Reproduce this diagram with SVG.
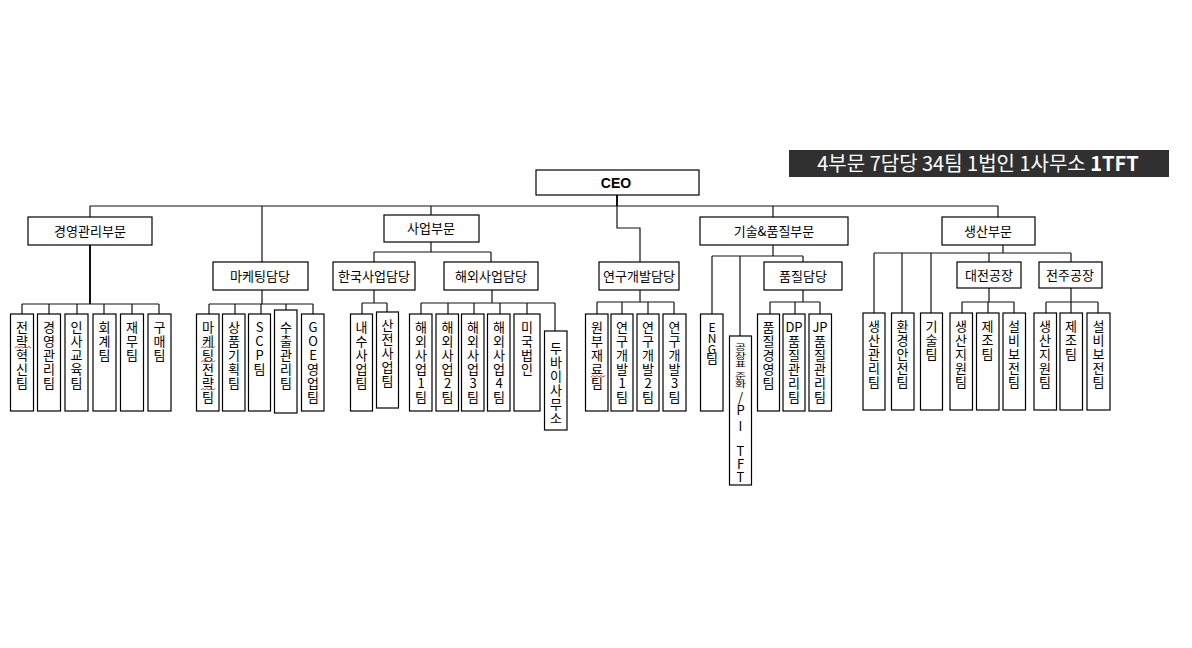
<svg xmlns="http://www.w3.org/2000/svg" width="1192" height="648" viewBox="0 0 1192 648">
<style>
.b{fill:#fff;stroke:#000;stroke-width:1.2}
.t{font-family:"Noto Sans CJK KR","Noto Sans",sans-serif;font-size:13px;fill:#000;text-anchor:middle}
.v{font-family:"Noto Sans CJK KR","Noto Sans",sans-serif;font-size:13px;fill:#000;text-anchor:middle}
.c{fill:none;stroke:#111;stroke-width:1.2}
.k{fill:none;stroke:#111;stroke-width:2}
.sq{fill:none;stroke:#e01010;stroke-width:0.8}
</style>
<rect width="1192" height="648" fill="#fff"/>
<g id="banner">
<rect x="789" y="150" width="380" height="27" fill="#303030"/>
<text x="978" y="170.5" style="font-family:'Noto Sans CJK KR','Noto Sans',sans-serif;font-size:20px;fill:#fff;text-anchor:middle">4부문 7담당 34팀 1법인 1사무소 <tspan font-weight="bold">1TFT</tspan></text>
</g>
<g id="connectors">
<path class="k" d="M617,195V206"/>
<path class="c" d="M90,206H998"/>
<path class="c" d="M90,206V217"/>
<path class="k" d="M90,245V304"/>
<path class="c" d="M22,304H159M22,304V314M49,304V314M77,304V314M104,304V314M132,304V314M159,304V314"/>
<path class="c" d="M262,206V262M262,290V304M209,304H313M209,304V314M235,304V314M261,304V314M286,304V310M313,304V314"/>
<path class="c" d="M431,206V215M431,242V252M374,252H491M374,252V262M491,252V262"/>
<path class="c" d="M374,290V303M362,303H387M362,303V314M387,303V312"/>
<path class="c" d="M492,290V303M421,303H555M421,303V314M448,303V314M474,303V314M500,303V314M527,303V314M555,303V331"/>
<path class="c" d="M617,206V228H640V262M640,290V302M597,302H674M597,302V314M622,302V314M648,302V314M674,302V314"/>
<path class="c" d="M773,206V217M773,245V256M712,256H803M712,256V314M740,256V336M803,256V262"/>
<path class="c" d="M803,290V302M770,302H820M770,302V314M795,302V314M820,302V314"/>
<path class="c" d="M998,206V217M1003,245V253M874,253H1071M874,253V313M902,253V313M931,253V313M989,253V262M1071,253V262"/>
<path class="c" d="M989,288V302M962,302H1014M962,302V313M988,302V313M1014,302V313"/>
<path class="c" d="M1071,288V302M1046,302H1098M1046,302V313M1071,302V313M1098,302V313"/>
</g>
<g id="ceo"><rect class="b" x="536" y="170" width="163" height="25"/><text x="616" y="188" style="font-family:'Liberation Sans',sans-serif;font-size:14px;font-weight:bold;text-anchor:middle">CEO</text></g>
<g id="n-gyeongyeong"><rect class="b" x="28" y="217" width="124" height="28"/><text class="t" x="90" y="236">경영관리부문</text></g>
<g id="n-marketing"><rect class="b" x="213" y="262" width="95" height="28"/><text class="t" x="260" y="281">마케팅담당</text></g>
<g id="n-saeop"><rect class="b" x="384" y="215" width="95" height="27"/><text class="t" x="431" y="233">사업부문</text></g>
<g id="n-hanguk"><rect class="b" x="333" y="262" width="82" height="28"/><text class="t" x="374" y="281">한국사업담당</text></g>
<g id="n-haeoe"><rect class="b" x="444" y="262" width="94" height="28"/><text class="t" x="491" y="281">해외사업담당</text></g>
<g id="n-rnd"><rect class="b" x="599" y="262" width="80" height="28"/><text class="t" x="639" y="281">연구개발담당</text></g>
<g id="n-gisul"><rect class="b" x="700" y="217" width="148" height="28"/><text class="t" x="774" y="236">기술&amp;품질부문</text></g>
<g id="n-pumjil"><rect class="b" x="764" y="262" width="78" height="28"/><text class="t" x="803" y="281">품질담당</text></g>
<g id="n-saengsan"><rect class="b" x="942" y="217" width="93" height="28"/><text class="t" x="988" y="236">생산부문</text></g>
<g id="n-daejeon"><rect class="b" x="957" y="262" width="64" height="26"/><text class="t" x="989" y="280">대전공장</text></g>
<g id="n-jeonju"><rect class="b" x="1039" y="262" width="63" height="26"/><text class="t" x="1070" y="280">전주공장</text></g>

<g id="l1"><rect class="b" x="10.5" y="314" width="23" height="97"/><text class="v" x="22" y="332"><tspan x="22">전</tspan><tspan x="22" dy="14">략</tspan><tspan x="22" dy="14">혁</tspan><tspan x="22" dy="14">신</tspan><tspan x="22" dy="14">팀</tspan></text><path class="sq" d="M15,348l2,-1.5l2,1.5l2,-1.5l2,1.5l2,-1.5l2,1.5l2,-1.5l2,1.5"/></g>
<g id="l2"><rect class="b" x="37.5" y="314" width="23" height="97"/><text class="v" x="49" y="332"><tspan x="49">경</tspan><tspan x="49" dy="14">영</tspan><tspan x="49" dy="14">관</tspan><tspan x="49" dy="14">리</tspan><tspan x="49" dy="14">팀</tspan></text></g>
<g id="l3"><rect class="b" x="65" y="314" width="23" height="97"/><text class="v" x="76.5" y="332"><tspan x="76.5">인</tspan><tspan x="76.5" dy="14">사</tspan><tspan x="76.5" dy="14">교</tspan><tspan x="76.5" dy="14">육</tspan><tspan x="76.5" dy="14">팀</tspan></text></g>
<g id="l4"><rect class="b" x="93" y="314" width="23" height="97"/><text class="v" x="104.5" y="332"><tspan x="104.5">회</tspan><tspan x="104.5" dy="14">계</tspan><tspan x="104.5" dy="14">팀</tspan></text></g>
<g id="l5"><rect class="b" x="120.5" y="314" width="23" height="97"/><text class="v" x="132" y="332"><tspan x="132">재</tspan><tspan x="132" dy="14">무</tspan><tspan x="132" dy="14">팀</tspan></text></g>
<g id="l6"><rect class="b" x="148" y="314" width="23" height="97"/><text class="v" x="159.5" y="332"><tspan x="159.5">구</tspan><tspan x="159.5" dy="14">매</tspan><tspan x="159.5" dy="14">팀</tspan></text></g>

<g id="m1"><rect class="b" x="196.5" y="314" width="22.5" height="97"/><text class="v" x="208" y="332"><tspan x="208">마</tspan><tspan x="208" dy="14">케</tspan><tspan x="208" dy="14">팅</tspan><tspan x="208" dy="14">전</tspan><tspan x="208" dy="14">략</tspan><tspan x="208" dy="14">팀</tspan></text><path class="sq" d="M201,348l2,-1.5l2,1.5l2,-1.5l2,1.5l2,-1.5l2,1.5l2,-1.5M201,362l2,-1.5l2,1.5l2,-1.5l2,1.5l2,-1.5l2,1.5l2,-1.5M201,390l2,-1.5l2,1.5l2,-1.5l2,1.5l2,-1.5l2,1.5l2,-1.5"/></g>
<g id="m2"><rect class="b" x="222.5" y="314" width="22.5" height="97"/><text class="v" x="234" y="332"><tspan x="234">상</tspan><tspan x="234" dy="14">품</tspan><tspan x="234" dy="14">기</tspan><tspan x="234" dy="14">획</tspan><tspan x="234" dy="14">팀</tspan></text></g>
<g id="m3"><rect class="b" x="248.5" y="314" width="22" height="97"/><text class="v" x="259.5" y="332"><tspan x="259.5">S</tspan><tspan x="259.5" dy="14">C</tspan><tspan x="259.5" dy="14">P</tspan><tspan x="259.5" dy="14">팀</tspan></text></g>
<g id="m4"><rect class="b" x="274.5" y="310" width="22.5" height="103"/><text class="v" x="286" y="332"><tspan x="286">수</tspan><tspan x="286" dy="14">출</tspan><tspan x="286" dy="14">관</tspan><tspan x="286" dy="14">리</tspan><tspan x="286" dy="14">팀</tspan></text></g>
<g id="m5"><rect class="b" x="301.5" y="314" width="22.5" height="97"/><text class="v" x="313" y="332"><tspan x="313">G</tspan><tspan x="313" dy="14">O</tspan><tspan x="313" dy="14">E</tspan><tspan x="313" dy="14">영</tspan><tspan x="313" dy="14">업</tspan><tspan x="313" dy="14">팀</tspan></text></g>

<g id="k1"><rect class="b" x="350.5" y="314" width="22" height="97"/><text class="v" x="361.5" y="332"><tspan x="361.5">내</tspan><tspan x="361.5" dy="14">수</tspan><tspan x="361.5" dy="14">사</tspan><tspan x="361.5" dy="14">업</tspan><tspan x="361.5" dy="14">팀</tspan></text></g>
<g id="k2"><rect class="b" x="376.5" y="312" width="22" height="96"/><text class="v" x="387.5" y="330"><tspan x="387.5">산</tspan><tspan x="387.5" dy="14">전</tspan><tspan x="387.5" dy="14">사</tspan><tspan x="387.5" dy="14">업</tspan><tspan x="387.5" dy="14">팀</tspan></text></g>

<g id="h1"><rect class="b" x="409.5" y="314" width="22.5" height="97"/><text class="v" x="421" y="332"><tspan x="421">해</tspan><tspan x="421" dy="14">외</tspan><tspan x="421" dy="14">사</tspan><tspan x="421" dy="14">업</tspan><tspan x="421" dy="14">1</tspan><tspan x="421" dy="14">팀</tspan></text></g>
<g id="h2"><rect class="b" x="436" y="314" width="22.5" height="97"/><text class="v" x="447.5" y="332"><tspan x="447.5">해</tspan><tspan x="447.5" dy="14">외</tspan><tspan x="447.5" dy="14">사</tspan><tspan x="447.5" dy="14">업</tspan><tspan x="447.5" dy="14">2</tspan><tspan x="447.5" dy="14">팀</tspan></text></g>
<g id="h3"><rect class="b" x="461.5" y="314" width="22.5" height="97"/><text class="v" x="473" y="332"><tspan x="473">해</tspan><tspan x="473" dy="14">외</tspan><tspan x="473" dy="14">사</tspan><tspan x="473" dy="14">업</tspan><tspan x="473" dy="14">3</tspan><tspan x="473" dy="14">팀</tspan></text></g>
<g id="h4"><rect class="b" x="487.5" y="314" width="22.5" height="97"/><text class="v" x="499" y="332"><tspan x="499">해</tspan><tspan x="499" dy="14">외</tspan><tspan x="499" dy="14">사</tspan><tspan x="499" dy="14">업</tspan><tspan x="499" dy="14">4</tspan><tspan x="499" dy="14">팀</tspan></text></g>
<g id="h5"><rect class="b" x="514" y="314" width="26" height="97"/><text class="v" x="527" y="332"><tspan x="527">미</tspan><tspan x="527" dy="14">국</tspan><tspan x="527" dy="14">법</tspan><tspan x="527" dy="14">인</tspan></text></g>
<g id="h6"><rect class="b" x="544.5" y="331" width="22.5" height="99"/><text class="v" x="556" y="353"><tspan x="556">두</tspan><tspan x="556" dy="14">바</tspan><tspan x="556" dy="14">이</tspan><tspan x="556" dy="14">사</tspan><tspan x="556" dy="14">무</tspan><tspan x="556" dy="14">소</tspan></text></g>

<g id="r1"><rect class="b" x="585.5" y="314" width="22.5" height="97"/><text class="v" x="597" y="332"><tspan x="597">원</tspan><tspan x="597" dy="14">부</tspan><tspan x="597" dy="14">재</tspan><tspan x="597" dy="14">료</tspan><tspan x="597" dy="14">팀</tspan></text><path class="sq" d="M591,377l2,-1.5l2,1.5l2,-1.5l2,1.5l2,-1.5l2,1.5l2,-1.5"/></g>
<g id="r2"><rect class="b" x="611" y="314" width="22" height="97"/><text class="v" x="622" y="332"><tspan x="622">연</tspan><tspan x="622" dy="14">구</tspan><tspan x="622" dy="14">개</tspan><tspan x="622" dy="14">발</tspan><tspan x="622" dy="14">1</tspan><tspan x="622" dy="14">팀</tspan></text></g>
<g id="r3"><rect class="b" x="637" y="314" width="22" height="97"/><text class="v" x="648" y="332"><tspan x="648">연</tspan><tspan x="648" dy="14">구</tspan><tspan x="648" dy="14">개</tspan><tspan x="648" dy="14">발</tspan><tspan x="648" dy="14">2</tspan><tspan x="648" dy="14">팀</tspan></text></g>
<g id="r4"><rect class="b" x="663" y="314" width="23" height="97"/><text class="v" x="674.5" y="332"><tspan x="674.5">연</tspan><tspan x="674.5" dy="14">구</tspan><tspan x="674.5" dy="14">개</tspan><tspan x="674.5" dy="14">발</tspan><tspan x="674.5" dy="14">3</tspan><tspan x="674.5" dy="14">팀</tspan></text></g>

<g id="g1"><rect class="b" x="700.5" y="314" width="22.5" height="97"/><text class="v" x="712" y="332" style="font-size:12px"><tspan x="712">E</tspan><tspan x="712" dy="11">N</tspan><tspan x="712" dy="11">G</tspan></text><text class="v" x="712" y="363"><tspan x="712">팀</tspan></text></g>
<g id="g2"><rect class="b" x="729.5" y="336" width="22" height="149"/><text class="v" transform="translate(740.5 350) scale(1 0.68)" x="0" y="0" style="font-size:12px"><tspan x="0">공</tspan><tspan x="0" dy="12.5">장</tspan><tspan x="0" dy="12.5">표</tspan><tspan x="0" dy="17.5">준</tspan><tspan x="0" dy="12.5">화</tspan></text><text class="v" x="740.5" y="402"><tspan x="740.5">/</tspan><tspan x="740.5" dy="13">P</tspan><tspan x="740.5" dy="16">I</tspan><tspan x="740.5" dy="25">T</tspan><tspan x="740.5" dy="13">F</tspan><tspan x="740.5" dy="13">T</tspan></text></g>
<g id="q1"><rect class="b" x="757.5" y="314" width="22" height="97"/><text class="v" x="768.5" y="332"><tspan x="768.5">품</tspan><tspan x="768.5" dy="14">질</tspan><tspan x="768.5" dy="14">경</tspan><tspan x="768.5" dy="14">영</tspan><tspan x="768.5" dy="14">팀</tspan></text></g>
<g id="q2"><rect class="b" x="783" y="314" width="22" height="97"/><text class="v" x="794" y="332"><tspan x="794">DP</tspan><tspan x="794" dy="14">품</tspan><tspan x="794" dy="14">질</tspan><tspan x="794" dy="14">관</tspan><tspan x="794" dy="14">리</tspan><tspan x="794" dy="14">팀</tspan></text></g>
<g id="q3"><rect class="b" x="809" y="314" width="22.5" height="97"/><text class="v" x="820" y="332"><tspan x="820">JP</tspan><tspan x="820" dy="14">품</tspan><tspan x="820" dy="14">질</tspan><tspan x="820" dy="14">관</tspan><tspan x="820" dy="14">리</tspan><tspan x="820" dy="14">팀</tspan></text></g>

<g id="s1"><rect class="b" x="863" y="313" width="22" height="97"/><text class="v" x="874" y="331"><tspan x="874">생</tspan><tspan x="874" dy="14">산</tspan><tspan x="874" dy="14">관</tspan><tspan x="874" dy="14">리</tspan><tspan x="874" dy="14">팀</tspan></text></g>
<g id="s2"><rect class="b" x="891.5" y="313" width="22.5" height="97"/><text class="v" x="902.5" y="331"><tspan x="902.5">환</tspan><tspan x="902.5" dy="14">경</tspan><tspan x="902.5" dy="14">안</tspan><tspan x="902.5" dy="14">전</tspan><tspan x="902.5" dy="14">팀</tspan></text></g>
<g id="s3"><rect class="b" x="920.5" y="313" width="22" height="97"/><text class="v" x="931.5" y="331"><tspan x="931.5">기</tspan><tspan x="931.5" dy="14">술</tspan><tspan x="931.5" dy="14">팀</tspan></text></g>
<g id="d1"><rect class="b" x="950" y="313" width="22.5" height="97"/><text class="v" x="961" y="331"><tspan x="961">생</tspan><tspan x="961" dy="14">산</tspan><tspan x="961" dy="14">지</tspan><tspan x="961" dy="14">원</tspan><tspan x="961" dy="14">팀</tspan></text></g>
<g id="d2"><rect class="b" x="976.5" y="313" width="22.5" height="97"/><text class="v" x="987.5" y="331"><tspan x="987.5">제</tspan><tspan x="987.5" dy="14">조</tspan><tspan x="987.5" dy="14">팀</tspan></text></g>
<g id="d3"><rect class="b" x="1003" y="313" width="22.5" height="97"/><text class="v" x="1014" y="331"><tspan x="1014">설</tspan><tspan x="1014" dy="14">비</tspan><tspan x="1014" dy="14">보</tspan><tspan x="1014" dy="14">전</tspan><tspan x="1014" dy="14">팀</tspan></text></g>
<g id="j1"><rect class="b" x="1034" y="313" width="22.5" height="97"/><text class="v" x="1045" y="331"><tspan x="1045">생</tspan><tspan x="1045" dy="14">산</tspan><tspan x="1045" dy="14">지</tspan><tspan x="1045" dy="14">원</tspan><tspan x="1045" dy="14">팀</tspan></text></g>
<g id="j2"><rect class="b" x="1060" y="313" width="22.5" height="97"/><text class="v" x="1071" y="331"><tspan x="1071">제</tspan><tspan x="1071" dy="14">조</tspan><tspan x="1071" dy="14">팀</tspan></text></g>
<g id="j3"><rect class="b" x="1087" y="313" width="23" height="97"/><text class="v" x="1098.5" y="331"><tspan x="1098.5">설</tspan><tspan x="1098.5" dy="14">비</tspan><tspan x="1098.5" dy="14">보</tspan><tspan x="1098.5" dy="14">전</tspan><tspan x="1098.5" dy="14">팀</tspan></text></g>
</svg>
